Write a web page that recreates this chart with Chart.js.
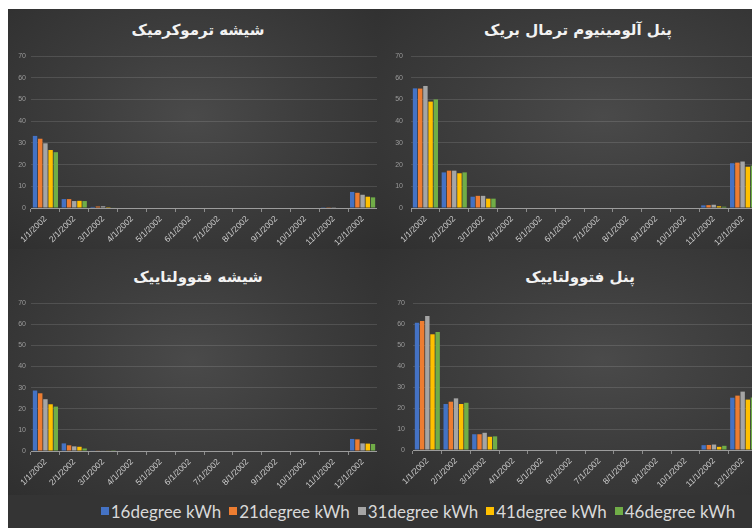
<!DOCTYPE html>
<html>
<head>
<meta charset="utf-8">
<script src="https://cdn.jsdelivr.net/npm/chart.js@4"></script>
<style>
  html, body { margin: 0; padding: 0; overflow: hidden; background: #ffffff; }
  #frame { position: absolute; left: 8px; top: 9px; width: 820px; height: 530px; background: #343434; }
  .panel { position: absolute; }
  canvas { position: absolute; }
  .title { position: absolute; width: 300px; margin-left: -150px; text-align: center; direction: rtl;
           font-family: "DejaVu Sans", sans-serif; font-weight: bold; font-size: 15px; line-height: 18px;
           color: #f2f2f2; white-space: nowrap; }
  #legend { position: absolute; left: 8px; top: 498px; width: 820px; height: 26px;
            display: flex; justify-content: center; align-items: center;
            font-family: Lato, "Open Sans", sans-serif; font-size: 17px; color: #d9d9d9; }
  #legend span.item { display: flex; align-items: center; margin: 0 4px; }
  #legend span.box { width: 8px; height: 8px; margin-right: 2px; display: inline-block; }
</style>
</head>
<body>
<div id="frame"></div>
<div id="legend"></div>

<script>
// months on the category axis
var months = ['1/1/2002', '2/1/2002', '3/1/2002', '4/1/2002', '5/1/2002', '6/1/2002',
              '7/1/2002', '8/1/2002', '9/1/2002', '10/1/2002', '11/1/2002', '12/1/2002'];

var seriesNames = ['16degree kWh', '21degree kWh', '31degree kWh', '41degree kWh', '46degree kWh'];
var seriesColors = ['#4472C4', '#ED7D31', '#A5A5A5', '#FFC000', '#70AD47'];

var yTicks = [0, 10, 20, 30, 40, 50, 60, 70];

var panelTitles = ['شیشه ترموکرمیک', 'پنل آلومینیوم ترمال بریک', 'شیشه فتوولتاییک', 'پنل فتوولتاییک'];

// one row per series (16, 21, 31, 41, 46 degree)
var thermochromicGlass = [
    [33.2, 4.1, 0.5, 0, 0, 0, 0, 0, 0, 0, 0.1, 7.4],
    [31.9, 4.1, 0.7, 0, 0, 0, 0, 0, 0, 0, 0.1, 7.0],
    [29.8, 3.2, 0.8, 0, 0, 0, 0, 0, 0, 0, 0.1, 6.1],
    [26.7, 3.3, 0.4, 0, 0, 0, 0, 0, 0, 0, 0, 5.2],
    [25.7, 3.2, 0.2, 0, 0, 0, 0, 0, 0, 0, 0, 4.9]
];

var aluminiumPanel = [
    [55.1, 16.4, 5.2, 0, 0, 0, 0, 0, 0, 0, 1.2, 20.6],
    [55.0, 17.2, 5.6, 0, 0, 0, 0, 0, 0, 0, 1.3, 20.9],
    [56.2, 17.2, 5.6, 0, 0, 0, 0, 0, 0, 0, 1.5, 21.4],
    [49.0, 16.0, 4.3, 0, 0, 0, 0, 0, 0, 0, 0.8, 19.0],
    [50.0, 16.4, 4.3, 0, 0, 0, 0, 0, 0, 0, 0.6, 19.5]
];

var pvGlass = [
    [28.6, 3.6, 0.3, 0, 0, 0, 0, 0, 0, 0, 0, 5.7],
    [27.3, 2.7, 0.3, 0, 0, 0, 0, 0, 0, 0, 0, 5.5],
    [24.5, 2.2, 0.2, 0, 0, 0, 0, 0, 0, 0, 0, 3.6],
    [22.1, 2.0, 0.2, 0, 0, 0, 0, 0, 0, 0, 0, 3.5],
    [21.0, 1.2, 0.1, 0, 0, 0, 0, 0, 0, 0, 0, 3.3]
];

var pvPanel = [
    [60.6, 21.9, 7.5, 0, 0, 0, 0, 0, 0, 0, 2.3, 24.9],
    [61.4, 23.0, 7.5, 0, 0, 0, 0, 0, 0, 0, 2.4, 25.9],
    [63.8, 24.6, 8.2, 0, 0, 0, 0, 0, 0, 0, 2.6, 27.8],
    [55.1, 21.9, 6.3, 0, 0, 0, 0, 0, 0, 0, 1.5, 24.0],
    [56.2, 22.5, 6.5, 0, 0, 0, 0, 0, 0, 0, 2.0, 25.0]
];

var panelData = [thermochromicGlass, aluminiumPanel, pvGlass, pvPanel];

// canvas placement for each panel, title centre in page px
var boxes = [
    { left: 9,   top: 9,   w: 368, h: 245, padL: 0,  padT: 47, yPad: 5, xH: 46, tx: 198, ty: 21 },
    { left: 378, top: 9,   w: 379, h: 245, padL: 11, padT: 47, yPad: 8, xH: 46, tx: 578, ty: 21 },
    { left: 9,   top: 251, w: 368, h: 245, padL: 0,  padT: 52, yPad: 5, xH: 45, tx: 198, ty: 268 },
    { left: 378, top: 251, w: 379, h: 245, padL: 13, padT: 52, yPad: 8, xH: 46, tx: 580, ty: 268 }
];

// soft glow behind each panel
var bgs = [
    { left: 0, top: 0, w: 369, h: 240 },
    { left: 369, top: 0, w: 451, h: 240 },
    { left: 0, top: 240, w: 369, h: 246 },
    { left: 369, top: 240, w: 451, h: 246 }
];
var frame = document.getElementById('frame');
bgs.forEach(function (b) {
    var d = document.createElement('div');
    d.className = 'panel';
    d.style.left = b.left + 'px';
    d.style.top = b.top + 'px';
    d.style.width = b.w + 'px';
    d.style.height = b.h + 'px';
    d.style.background = 'radial-gradient(ellipse at 50% 45%, #4a4a4a 0%, #3d3d3d 45%, #2f2f2f 100%)';
    frame.appendChild(d);
});

panelData.forEach(function (rows, p) {
    var b = boxes[p];

    var t = document.createElement('div');
    t.className = 'title';
    t.style.left = b.tx + 'px';
    t.style.top = b.ty + 'px';
    t.textContent = panelTitles[p];
    document.body.appendChild(t);

    var cv = document.createElement('canvas');
    cv.width = b.w;
    cv.height = b.h;
    cv.style.left = b.left + 'px';
    cv.style.top = b.top + 'px';
    document.body.appendChild(cv);

    var datasets = rows.map(function (vals, i) {
        return {
            label: seriesNames[i],
            data: vals,
            backgroundColor: seriesColors[i],
            categoryPercentage: 0.9,
            barPercentage: 0.85
        };
    });

    new Chart(cv.getContext('2d'), {
        type: 'bar',
        data: { labels: months, datasets: datasets },
        options: {
            responsive: false,
            animation: false,
            devicePixelRatio: 1,
            layout: { padding: { left: b.padL, right: 0, top: b.padT, bottom: 0 } },
            plugins: {
                legend: { display: false },
                tooltip: { enabled: false },
                title: { display: false }
            },
            scales: {
                x: {
                    grid: { display: true, drawOnChartArea: false, drawTicks: true, tickLength: 4, color: '#8c8c8c' },
                    border: { color: '#9c9c9c', width: 1 },
                    ticks: {
                        color: '#cccccc',
                        font: { family: 'Liberation Sans', size: 8.5 },
                        minRotation: 45, maxRotation: 45, autoSkip: false, padding: 2
                    },
                    afterFit: function (s) { s.height = b.xH; }
                },
                y: {
                    min: 0, max: 70,
                    afterBuildTicks: function (s) { s.ticks = yTicks.map(function (v) { return { value: v }; }); },
                    ticks: { color: '#9a9a9a', font: { family: 'Liberation Sans', size: 7 }, padding: b.yPad },
                    grid: { color: 'rgba(255,255,255,0.12)', drawTicks: false },
                    border: { display: false },
                    afterFit: function (s) { s.width = 22; }
                }
            }
        }
    });
});

// shared legend
var legend = document.getElementById('legend');
seriesNames.forEach(function (name, i) {
    var item = document.createElement('span');
    item.className = 'item';
    var box = document.createElement('span');
    box.className = 'box';
    box.style.background = seriesColors[i];
    item.appendChild(box);
    item.appendChild(document.createTextNode(name));
    legend.appendChild(item);
});
</script>
</body>
</html>
